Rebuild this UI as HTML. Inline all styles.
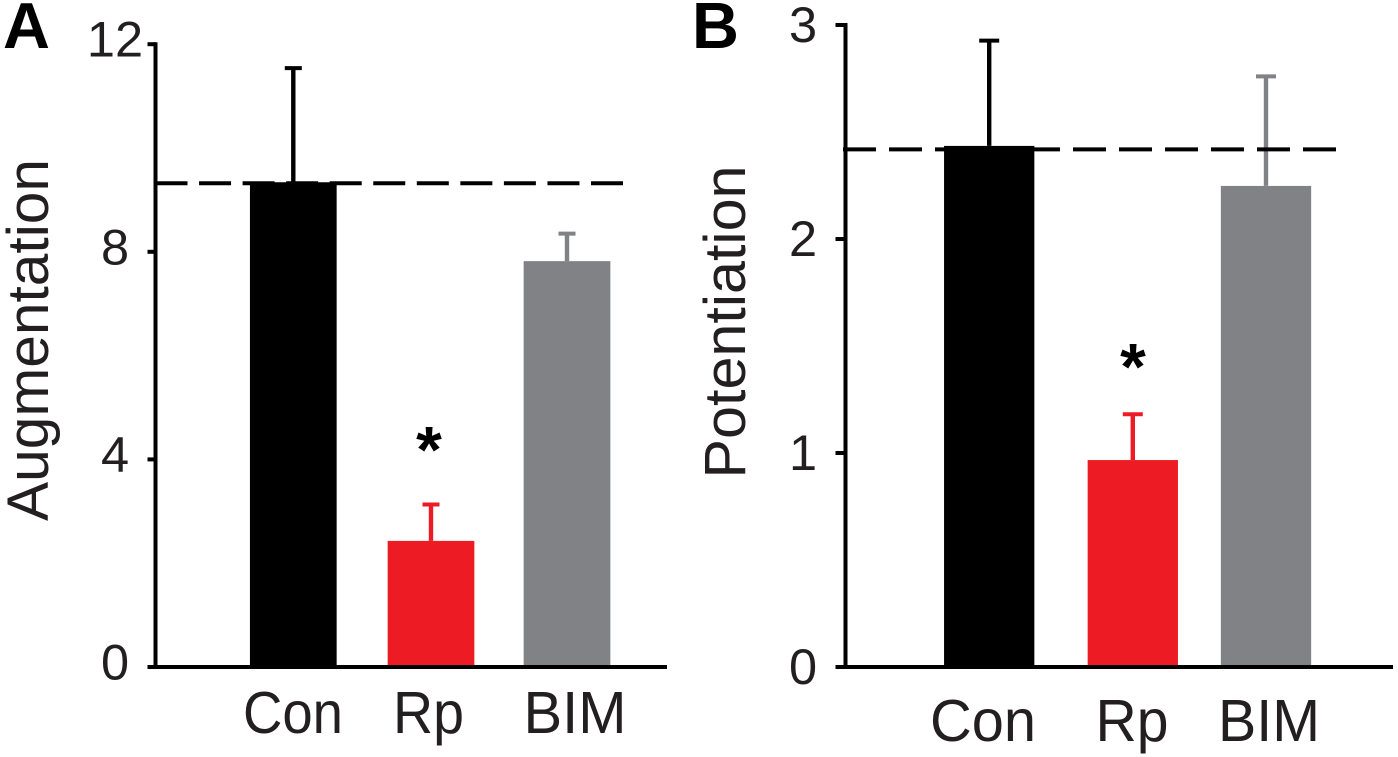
<!DOCTYPE html>
<html lang="en">
<head>
<meta charset="utf-8">
<title>Augmentation and Potentiation bar charts</title>
<style>
  html, body { margin: 0; padding: 0; background: #fff; }
  body { width: 1398px; height: 757px; overflow: hidden; }
  svg { display: block; }
  text { font-family: "Liberation Sans", sans-serif; fill: #231f20; }
</style>
</head>
<body>
<svg id="chart" xmlns="http://www.w3.org/2000/svg" width="1398" height="757" viewBox="0 0 1398 757"></svg>
<script>
// Data
const categories = ['Con', 'Rp', 'BIM'];
const barColors = ['#000000', '#ed1c24', '#808285'];

const augmentationMeans = [9.34, 2.43, 7.82];
const augmentationErrorTops = [11.54, 3.13, 8.35];
const augmentationTicks = [0, 4, 8, 12];
const augmentationReference = [9.32];
const augmentationSignificant = [false, true, false];

const potentiationMeans = [2.435, 0.967, 2.248];
const potentiationErrorTops = [2.927, 1.181, 2.76];
const potentiationTicks = [0, 1, 2, 3];
const potentiationReference = [2.419];
const potentiationSignificant = [false, true, false];

const NS = 'http://www.w3.org/2000/svg';
const svg = document.getElementById('chart');

function make(tag, attrs, parent, content) {
  const el = document.createElementNS(NS, tag);
  for (const k in attrs) el.setAttribute(k, attrs[k]);
  if (content !== undefined) el.textContent = content;
  parent.appendChild(el);
  return el;
}

function drawPanel(cfg) {
  const group = make('g', {}, svg);
  
  

  const y = v => cfg.y0 - v * cfg.unit;
  const yMax = cfg.ticks[cfg.ticks.length - 1];

  // Bars
  cfg.means.forEach((m, i) => {
    const cx = cfg.centers[i];
    const bar = make('rect', { x: cx - cfg.barW / 2, y: y(m), width: cfg.barW, height: y(0) - y(m), fill: barColors[i] }, group);
    
    

    const stem = make('line', { x1: cx, x2: cx, y1: y(m), y2: y(cfg.errs[i]), stroke: barColors[i], 'stroke-width': cfg.stemW }, group);
    
    

    const cap = make('line', { x1: cx - cfg.capW / 2, x2: cx + cfg.capW / 2, y1: y(cfg.errs[i]), y2: y(cfg.errs[i]), stroke: barColors[i], 'stroke-width': 4 }, group);
    
    

    if (cfg.sig[i]) {
      const star = make('text', { x: cfg.starX, y: y(cfg.errs[i]) + cfg.starDy, 'text-anchor': 'middle', 'font-size': 66, 'font-weight': 'bold', style: 'fill:#000' }, group, '*');
      
      
    }

    const lab = make('text', { x: cfg.labelX[i], y: cfg.labelY, 'text-anchor': 'middle', 'font-size': 59, textLength: cfg.labelW[i], lengthAdjust: 'spacingAndGlyphs' }, group, categories[i]);
    
    
  });

  // Dashed reference line
  const ref = make('line', { x1: cfg.dashStart, x2: cfg.dashEnd, y1: y(cfg.reference[0]), y2: y(cfg.reference[0]), stroke: '#000', 'stroke-width': 4, 'stroke-dasharray': cfg.dash }, group);
  
  

  // Axes
  const yAxis = make('line', { x1: cfg.axisX, x2: cfg.axisX, y1: y(yMax) - 2, y2: y(0) + 2, stroke: '#000', 'stroke-width': 4 }, group);
  
  

  const xAxis = make('line', { x1: cfg.axisX - cfg.tickLen, x2: cfg.xEnd, y1: y(0), y2: y(0), stroke: '#000', 'stroke-width': 4 }, group);
  
  

  cfg.ticks.forEach(t => {
    const tick = make('line', { x1: cfg.axisX - cfg.tickLen, x2: cfg.axisX, y1: y(t), y2: y(t), stroke: '#000', 'stroke-width': 4 }, group);
    
    

    const lab = make('text', { x: cfg.tickX, y: y(t) + cfg.tickDy, 'text-anchor': 'middle', 'font-size': 50.5 }, group, String(t));
    
    
  });

  // Titles
  const title = make('text', { transform: 'translate(' + cfg.titleX + ',' + cfg.titleY + ') rotate(-90)', 'text-anchor': 'middle', 'font-size': 58, textLength: cfg.titleW, lengthAdjust: 'spacingAndGlyphs' }, group, cfg.title);
  
  

  const letter = make('text', { x: cfg.letterX, y: 48, 'font-size': 65, 'font-weight': 'bold', style: 'fill:#000' }, group, cfg.letter);
  
  
}

drawPanel({
  name: 'panel-a-augmentation', letter: 'A', letterX: 3, title: 'Augmentation',
  means: augmentationMeans, errs: augmentationErrorTops, ticks: augmentationTicks,
  reference: augmentationReference, sig: augmentationSignificant,
  y0: 667, unit: 51.9, axisX: 155.5, tickLen: 8, xEnd: 667,
  centers: [293.3, 431, 567], barW: 86.7, stemW: 4.4, capW: 17,
  labelX: [293, 428.5, 575], labelY: 733, labelW: [100, 71, 103],
  tickX: 115, tickDy: 12.5, starX: 429, starDy: -32,
  dashStart: 155.5, dashEnd: 623, dash: '32 11.55',
  titleX: 48, titleY: 340, titleW: 362
});

drawPanel({
  name: 'panel-b-potentiation', letter: 'B', letterX: 692, title: 'Potentiation',
  means: potentiationMeans, errs: potentiationErrorTops, ticks: potentiationTicks,
  reference: potentiationReference, sig: potentiationSignificant,
  y0: 667, unit: 214, axisX: 845.5, tickLen: 10, xEnd: 1393,
  centers: [989.2, 1132.8, 1266], barW: 90.3, stemW: 4.4, capW: 20,
  labelX: [983, 1132, 1269], labelY: 741, labelW: [106, 73, 102],
  tickX: 803, tickDy: 17, starX: 1133, starDy: -25,
  dashStart: 843, dashEnd: 1336, dash: '33 13',
  titleX: 745, titleY: 322, titleW: 313
});
</script>
</body>
</html>
